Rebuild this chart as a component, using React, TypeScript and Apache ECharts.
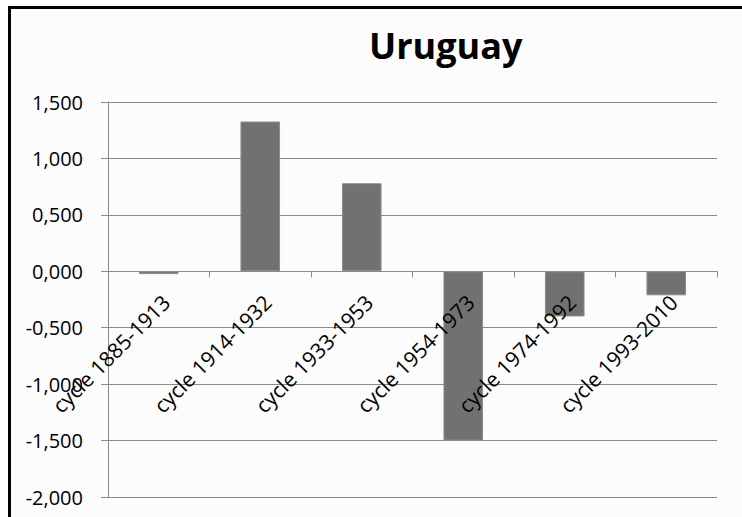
import React, { useEffect, useRef } from "react";
import * as echarts from "echarts";

const categories = [
  "cycle 1885-1913",
  "cycle 1914-1932",
  "cycle 1933-1953",
  "cycle 1954-1973",
  "cycle 1974-1992",
  "cycle 1993-2010",
];
const values = [-0.025, 1.327, 0.78, -1.5, -0.4, -0.213];
const titleText = "Uruguay";
const yMin = -2;
const yMax = 1.5;
const yStep = 0.5;

const fmt = (v: number) => v.toFixed(3).replace(".", ",");

export default function App() {
  const ref = useRef<HTMLDivElement>(null);
  useEffect(() => {
    if (!ref.current) return;
    const chart = echarts.init(ref.current, null, { renderer: "svg" });
    const gridColor = "#8a8a8a";
    const top = 102;
    const bottom = 20;
    const plotH = 517 - top - bottom;
    const zeroY = top + (plotH * (yMax - 0)) / (yMax - yMin);
    chart.setOption({
      animation: false,
      backgroundColor: "transparent",
      title: {
        text: titleText,
        left: 364,
        top: 22,
        textStyle: {
          fontFamily: "Open Sans",
          fontWeight: "bold",
          fontSize: 36,
          color: "#000",
        },
      },
      grid: [
        { left: 108, right: 25, top, bottom, containLabel: false, outerBoundsMode: "none" },
        { left: 108, right: 25, top, bottom: 517 - zeroY, containLabel: false, outerBoundsMode: "none" },
      ],
      xAxis: [
        {
          type: "category",
          gridIndex: 0,
          data: categories,
          z: 10,
          axisLine: { onZero: true, lineStyle: { color: gridColor, width: 1 } },
          axisTick: { show: true, length: 6, interval: 0, lineStyle: { color: gridColor } },
          axisLabel: { show: false },
          splitLine: { show: false },
        },
        {
          type: "category",
          gridIndex: 1,
          data: categories,
          z: 20,
          axisLine: { show: false },
          axisTick: { show: false },
          axisLabel: {
            interval: 0,
            rotate: 45,
            margin: 20,
            verticalAlign: "top",
            fontFamily: "Open Sans",
            fontSize: 21,
            color: "#000",
          },
          splitLine: { show: false },
        },
      ],
      yAxis: [
        {
          type: "value",
          gridIndex: 0,
          min: yMin,
          max: yMax,
          interval: yStep,
          axisLine: { show: true, lineStyle: { color: gridColor, width: 1 } },
          axisTick: { show: true, length: 7, lineStyle: { color: gridColor } },
          axisLabel: {
            formatter: fmt,
            margin: 25,
            fontFamily: "Open Sans",
            fontSize: 20,
            color: "#000",
          },
          splitLine: { show: true, lineStyle: { color: gridColor, width: 1 } },
        },
        {
          type: "value",
          gridIndex: 1,
          min: 0,
          max: 1,
          show: false,
        },
      ],
      series: [
        {
          type: "bar",
          xAxisIndex: 0,
          yAxisIndex: 0,
          data: values,
          barWidth: "39%",
          itemStyle: { color: "#717171", borderColor: "#8c8c8c", borderWidth: 1 },
        },
      ],
    });
    return () => chart.dispose();
  }, []);
  return (
    <div style={{ position: "absolute", left: 0, top: 0, width: 742, height: 517, background: "#fff", overflow: "hidden" }}>
      <div
        style={{
          position: "absolute",
          left: 8,
          top: 6,
          width: 800,
          height: 600,
          background: "#fcfcfc",
          borderLeft: "3px solid #000",
          borderTop: "3px solid #000",
        }}
      />
      <div ref={ref} style={{ position: "absolute", left: 0, top: 0, width: 742, height: 517 }} />
    </div>
  );
}
